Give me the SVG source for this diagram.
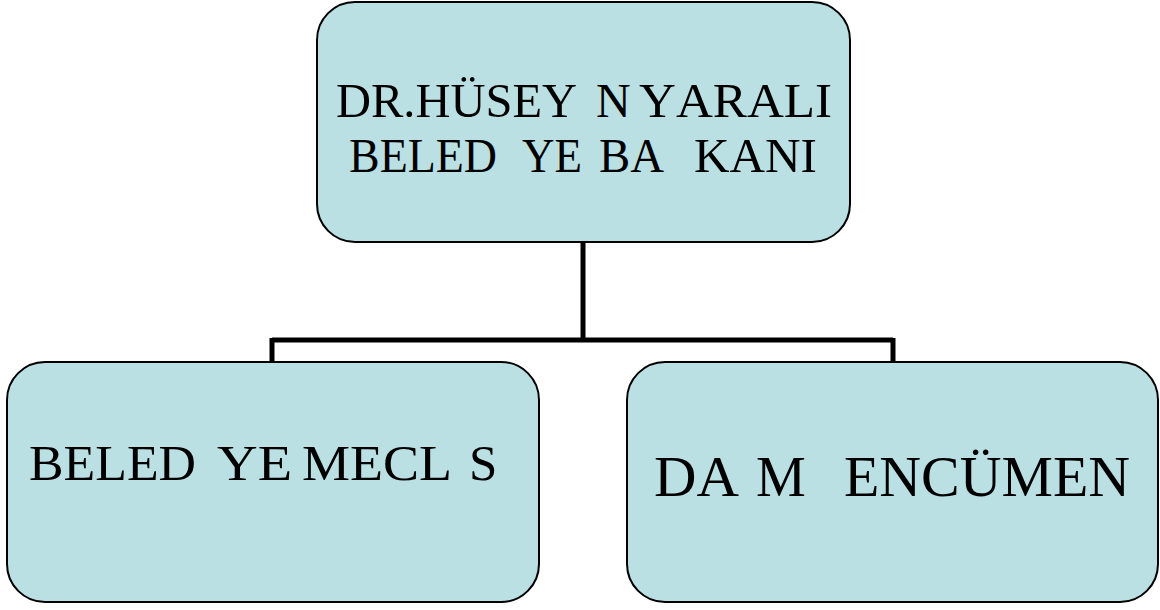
<svg xmlns="http://www.w3.org/2000/svg" width="1160" height="610" viewBox="0 0 1160 610">
<style>
.box{fill:#BAE0E3;stroke:#000;stroke-width:2}
.lbl{font-family:"Liberation Serif","Times New Roman",serif;fill:#000;font-kerning:none}
.t1{font-size:48px}
.t2{font-size:51px}
.t3{font-size:56px}
.conn{fill:none;stroke:#000;stroke-width:5;stroke-linecap:butt;stroke-linejoin:miter}
</style>
<rect width="1160" height="610" fill="#fff"/>
<g id="connectors">
<path class="conn" d="M583 242 V340 M272 340 H893 M272 338 V362 M893 338 V362"/>
</g>
<g id="mayor">
<rect class="box" x="317" y="2" width="533" height="240" rx="38" ry="38"/>
<text class="lbl t1" y="117"><tspan x="336" textLength="241" lengthAdjust="spacingAndGlyphs">DR.HÜSEY</tspan><tspan x="596">N</tspan><tspan x="639" textLength="193" lengthAdjust="spacingAndGlyphs">YARALI</tspan></text>
<text class="lbl t1" y="172"><tspan x="349" textLength="148" lengthAdjust="spacingAndGlyphs">BELED</tspan><tspan x="522" textLength="60" lengthAdjust="spacingAndGlyphs">YE</tspan><tspan x="599" textLength="65" lengthAdjust="spacingAndGlyphs">BA</tspan><tspan x="694" textLength="123" lengthAdjust="spacingAndGlyphs">KANI</tspan></text>
</g>
<g id="council">
<rect class="box" x="7" y="362" width="532" height="240" rx="38" ry="38"/>
<text class="lbl t2" y="480"><tspan x="29" textLength="167" lengthAdjust="spacingAndGlyphs">BELED</tspan><tspan x="217" textLength="75" lengthAdjust="spacingAndGlyphs">YE</tspan><tspan x="302" textLength="150" lengthAdjust="spacingAndGlyphs">MECL</tspan><tspan x="469">S</tspan></text>
</g>
<g id="committee">
<rect class="box" x="627" y="362" width="531" height="240" rx="38" ry="38"/>
<text class="lbl t3" y="496"><tspan x="654" textLength="85" lengthAdjust="spacingAndGlyphs">DA</tspan><tspan x="756">M</tspan><tspan x="844" textLength="286" lengthAdjust="spacingAndGlyphs">ENCÜMEN</tspan></text>
</g>
</svg>
